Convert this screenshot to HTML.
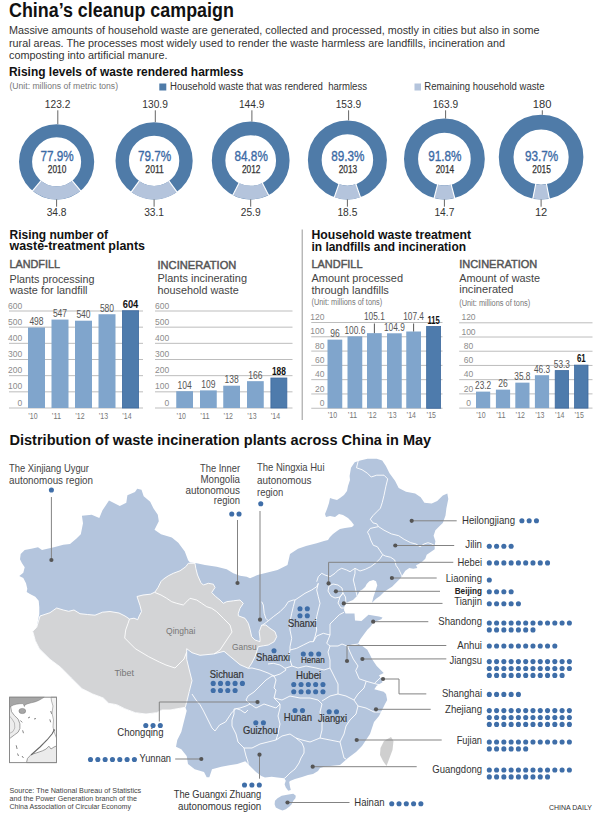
<!DOCTYPE html>
<html><head><meta charset="utf-8"><title>China's cleanup campaign</title>
<style>html,body{margin:0;padding:0;background:#fff;} svg{display:block;} text{font-family:'Liberation Sans', sans-serif;}</style>
</head><body>
<svg width="600" height="832" viewBox="0 0 600 832">
<rect width="600" height="832" fill="#fff"/>
<text x="9.0" y="17.3" font-size="20" fill="#111" font-weight="bold" textLength="224.8" lengthAdjust="spacingAndGlyphs">China’s cleanup campaign</text>
<text x="9.0" y="34.3" font-size="10.8" fill="#333" textLength="530.5" lengthAdjust="spacingAndGlyphs">Massive amounts of household waste are generated, collected and processed, mostly in cities but also in some</text>
<text x="9.0" y="46.8" font-size="10.8" fill="#333" textLength="496.0" lengthAdjust="spacingAndGlyphs">rural areas. The processes most widely used to render the waste harmless are landfills, incineration and</text>
<text x="9.0" y="58.8" font-size="10.8" fill="#333" textLength="158.5" lengthAdjust="spacingAndGlyphs">composting into artificial manure.</text>
<text x="9.0" y="76.2" font-size="13.2" fill="#111" font-weight="bold" textLength="234.3" lengthAdjust="spacingAndGlyphs">Rising levels of waste rendered harmless</text>
<text x="9.5" y="89.0" font-size="8.5" fill="#777" textLength="108.5" lengthAdjust="spacingAndGlyphs">(Unit: millions of metric tons)</text>
<rect x="159.3" y="83.5" width="7" height="7" fill="#4f7ba8"/>
<text x="170.0" y="90.3" font-size="10" fill="#333" textLength="197.0" lengthAdjust="spacingAndGlyphs" xml:space="preserve">Household waste that was rendered  harmless</text>
<rect x="414.5" y="83.5" width="6.5" height="7" fill="#b4c4dc"/>
<text x="424.3" y="90.3" font-size="10" fill="#333" textLength="120.3" lengthAdjust="spacingAndGlyphs">Remaining household waste</text>
<circle cx="56.60" cy="161.80" r="31.06" fill="none" stroke="#4f7ba8" stroke-width="13.08"/>
<path d="M32.61,190.75 A37.60,37.60 0 0 0 80.59,190.75 L72.24,180.68 A24.52,24.52 0 0 1 40.96,180.68 Z" fill="#b4c4dc"/>
<line x1="41.28" y1="180.29" x2="32.29" y2="191.14" stroke="#fff" stroke-width="1.1"/>
<line x1="71.92" y1="180.29" x2="80.91" y2="191.14" stroke="#fff" stroke-width="1.1"/>
<line x1="57.80" y1="110.3" x2="57.80" y2="124.20" stroke="#666" stroke-width="1"/>
<line x1="56.60" y1="199.40" x2="56.60" y2="206.7" stroke="#666" stroke-width="1"/>
<text x="57.6" y="107.5" font-size="11.5" fill="#333" text-anchor="middle" textLength="25.5" lengthAdjust="spacingAndGlyphs">123.2</text>
<text x="56.6" y="216.3" font-size="11.5" fill="#333" text-anchor="middle" textLength="19.9" lengthAdjust="spacingAndGlyphs">34.8</text>
<text x="57.1" y="160.5" font-size="14.8" fill="#3b6aa5" text-anchor="middle" textLength="33.3" lengthAdjust="spacingAndGlyphs" stroke="#3b6aa5" stroke-width="0.35">77.9%</text>
<text x="57.1" y="173.0" font-size="10" fill="#333" text-anchor="middle" textLength="18.5" lengthAdjust="spacingAndGlyphs" stroke="#333" stroke-width="0.25">2010</text>
<circle cx="154.10" cy="160.80" r="31.88" fill="none" stroke="#4f7ba8" stroke-width="13.43"/>
<path d="M131.23,191.90 A38.60,38.60 0 0 0 176.97,191.90 L169.01,181.08 A25.17,25.17 0 0 1 139.19,181.08 Z" fill="#b4c4dc"/>
<line x1="139.49" y1="180.67" x2="130.94" y2="192.30" stroke="#fff" stroke-width="1.1"/>
<line x1="168.71" y1="180.67" x2="177.26" y2="192.30" stroke="#fff" stroke-width="1.1"/>
<line x1="155.30" y1="110.3" x2="155.30" y2="122.20" stroke="#666" stroke-width="1"/>
<line x1="154.10" y1="199.40" x2="154.10" y2="206.7" stroke="#666" stroke-width="1"/>
<text x="155.1" y="107.5" font-size="11.5" fill="#333" text-anchor="middle" textLength="25.5" lengthAdjust="spacingAndGlyphs">130.9</text>
<text x="154.1" y="216.3" font-size="11.5" fill="#333" text-anchor="middle" textLength="19.9" lengthAdjust="spacingAndGlyphs">33.1</text>
<text x="154.6" y="160.5" font-size="14.8" fill="#3b6aa5" text-anchor="middle" textLength="33.3" lengthAdjust="spacingAndGlyphs" stroke="#3b6aa5" stroke-width="0.35">79.7%</text>
<text x="154.6" y="173.0" font-size="10" fill="#333" text-anchor="middle" textLength="18.5" lengthAdjust="spacingAndGlyphs" stroke="#333" stroke-width="0.25">2011</text>
<circle cx="250.70" cy="160.50" r="32.13" fill="none" stroke="#4f7ba8" stroke-width="13.54"/>
<path d="M232.86,195.07 A38.90,38.90 0 0 0 268.54,195.07 L262.33,183.04 A25.36,25.36 0 0 1 239.07,183.04 Z" fill="#b4c4dc"/>
<line x1="239.30" y1="182.59" x2="232.63" y2="195.51" stroke="#fff" stroke-width="1.1"/>
<line x1="262.10" y1="182.59" x2="268.77" y2="195.51" stroke="#fff" stroke-width="1.1"/>
<line x1="251.90" y1="110.3" x2="251.90" y2="121.60" stroke="#666" stroke-width="1"/>
<line x1="250.70" y1="199.40" x2="250.70" y2="206.7" stroke="#666" stroke-width="1"/>
<text x="251.7" y="107.5" font-size="11.5" fill="#333" text-anchor="middle" textLength="25.5" lengthAdjust="spacingAndGlyphs">144.9</text>
<text x="250.7" y="216.3" font-size="11.5" fill="#333" text-anchor="middle" textLength="19.9" lengthAdjust="spacingAndGlyphs">25.9</text>
<text x="251.2" y="160.5" font-size="14.8" fill="#3b6aa5" text-anchor="middle" textLength="33.3" lengthAdjust="spacingAndGlyphs" stroke="#3b6aa5" stroke-width="0.35">84.8%</text>
<text x="251.2" y="173.0" font-size="10" fill="#333" text-anchor="middle" textLength="18.5" lengthAdjust="spacingAndGlyphs" stroke="#333" stroke-width="0.25">2012</text>
<circle cx="347.40" cy="159.90" r="32.63" fill="none" stroke="#4f7ba8" stroke-width="13.75"/>
<path d="M334.33,197.18 A39.50,39.50 0 0 0 360.47,197.18 L355.92,184.20 A25.75,25.75 0 0 1 338.88,184.20 Z" fill="#b4c4dc"/>
<line x1="339.05" y1="183.73" x2="334.17" y2="197.65" stroke="#fff" stroke-width="1.1"/>
<line x1="355.75" y1="183.73" x2="360.63" y2="197.65" stroke="#fff" stroke-width="1.1"/>
<line x1="348.60" y1="110.3" x2="348.60" y2="120.40" stroke="#666" stroke-width="1"/>
<line x1="347.40" y1="199.40" x2="347.40" y2="206.7" stroke="#666" stroke-width="1"/>
<text x="348.4" y="107.5" font-size="11.5" fill="#333" text-anchor="middle" textLength="25.5" lengthAdjust="spacingAndGlyphs">153.9</text>
<text x="347.4" y="216.3" font-size="11.5" fill="#333" text-anchor="middle" textLength="19.9" lengthAdjust="spacingAndGlyphs">18.5</text>
<text x="347.9" y="160.5" font-size="14.8" fill="#3b6aa5" text-anchor="middle" textLength="33.3" lengthAdjust="spacingAndGlyphs" stroke="#3b6aa5" stroke-width="0.35">89.3%</text>
<text x="347.9" y="173.0" font-size="10" fill="#333" text-anchor="middle" textLength="18.5" lengthAdjust="spacingAndGlyphs" stroke="#333" stroke-width="0.25">2013</text>
<circle cx="444.40" cy="159.00" r="33.37" fill="none" stroke="#4f7ba8" stroke-width="14.06"/>
<path d="M434.07,198.06 A40.40,40.40 0 0 0 454.73,198.06 L451.14,184.47 A26.34,26.34 0 0 1 437.66,184.47 Z" fill="#b4c4dc"/>
<line x1="437.79" y1="183.98" x2="433.94" y2="198.54" stroke="#fff" stroke-width="1.1"/>
<line x1="451.01" y1="183.98" x2="454.86" y2="198.54" stroke="#fff" stroke-width="1.1"/>
<line x1="445.60" y1="110.3" x2="445.60" y2="118.60" stroke="#666" stroke-width="1"/>
<line x1="444.40" y1="199.40" x2="444.40" y2="206.7" stroke="#666" stroke-width="1"/>
<text x="445.4" y="107.5" font-size="11.5" fill="#333" text-anchor="middle" textLength="25.5" lengthAdjust="spacingAndGlyphs">163.9</text>
<text x="444.4" y="216.3" font-size="11.5" fill="#333" text-anchor="middle" textLength="19.9" lengthAdjust="spacingAndGlyphs">14.7</text>
<text x="444.9" y="160.5" font-size="14.8" fill="#3b6aa5" text-anchor="middle" textLength="33.3" lengthAdjust="spacingAndGlyphs" stroke="#3b6aa5" stroke-width="0.35">91.8%</text>
<text x="444.9" y="173.0" font-size="10" fill="#333" text-anchor="middle" textLength="18.5" lengthAdjust="spacingAndGlyphs" stroke="#333" stroke-width="0.25">2014</text>
<circle cx="541.10" cy="157.10" r="34.94" fill="none" stroke="#4f7ba8" stroke-width="14.72"/>
<path d="M532.85,198.59 A42.30,42.30 0 0 0 549.35,198.59 L546.48,184.15 A27.58,27.58 0 0 1 535.72,184.15 Z" fill="#b4c4dc"/>
<line x1="535.82" y1="183.66" x2="532.75" y2="199.08" stroke="#fff" stroke-width="1.1"/>
<line x1="546.38" y1="183.66" x2="549.45" y2="199.08" stroke="#fff" stroke-width="1.1"/>
<line x1="542.30" y1="110.3" x2="542.30" y2="114.80" stroke="#666" stroke-width="1"/>
<line x1="541.10" y1="199.40" x2="541.10" y2="206.7" stroke="#666" stroke-width="1"/>
<text x="542.1" y="107.5" font-size="11.5" fill="#333" text-anchor="middle" textLength="18.6" lengthAdjust="spacingAndGlyphs">180</text>
<text x="541.1" y="216.3" font-size="11.5" fill="#333" text-anchor="middle" textLength="12.4" lengthAdjust="spacingAndGlyphs">12</text>
<text x="541.6" y="160.5" font-size="14.8" fill="#3b6aa5" text-anchor="middle" textLength="33.3" lengthAdjust="spacingAndGlyphs" stroke="#3b6aa5" stroke-width="0.35">93.7%</text>
<text x="541.6" y="173.0" font-size="10" fill="#333" text-anchor="middle" textLength="18.5" lengthAdjust="spacingAndGlyphs" stroke="#333" stroke-width="0.25">2015</text>
<line x1="9" y1="408.00" x2="143" y2="408.00" stroke="#bdbdbd" stroke-width="1"/>
<text x="22.3" y="405.6" font-size="8.5" fill="#8c8c8c" text-anchor="end">0</text>
<line x1="9" y1="391.83" x2="143" y2="391.83" stroke="#bdbdbd" stroke-width="1"/>
<text x="22.3" y="389.4" font-size="8.5" fill="#8c8c8c" text-anchor="end">100</text>
<line x1="9" y1="375.67" x2="143" y2="375.67" stroke="#bdbdbd" stroke-width="1"/>
<text x="22.3" y="373.3" font-size="8.5" fill="#8c8c8c" text-anchor="end">200</text>
<line x1="9" y1="359.50" x2="143" y2="359.50" stroke="#bdbdbd" stroke-width="1"/>
<text x="22.3" y="357.1" font-size="8.5" fill="#8c8c8c" text-anchor="end">300</text>
<line x1="9" y1="343.33" x2="143" y2="343.33" stroke="#bdbdbd" stroke-width="1"/>
<text x="22.3" y="340.9" font-size="8.5" fill="#8c8c8c" text-anchor="end">400</text>
<line x1="9" y1="327.17" x2="143" y2="327.17" stroke="#bdbdbd" stroke-width="1"/>
<text x="22.3" y="324.8" font-size="8.5" fill="#8c8c8c" text-anchor="end">500</text>
<line x1="9" y1="311.00" x2="143" y2="311.00" stroke="#bdbdbd" stroke-width="1"/>
<text x="22.3" y="308.6" font-size="8.5" fill="#8c8c8c" text-anchor="end">600</text>
<rect x="28.00" y="327.49" width="17" height="80.51" fill="#80a5cc"/>
<text x="36.5" y="325.0" font-size="11" fill="#555" text-anchor="middle" textLength="14.2" lengthAdjust="spacingAndGlyphs">498</text>
<text x="28.3" y="418.8" font-size="8.5" fill="#777" textLength="9.3" lengthAdjust="spacingAndGlyphs">’10</text>
<rect x="51.50" y="319.57" width="17" height="88.43" fill="#80a5cc"/>
<text x="60.0" y="317.1" font-size="11" fill="#555" text-anchor="middle" textLength="14.2" lengthAdjust="spacingAndGlyphs">547</text>
<text x="51.8" y="418.8" font-size="8.5" fill="#777" textLength="9.3" lengthAdjust="spacingAndGlyphs">’11</text>
<rect x="75.00" y="320.70" width="17" height="87.30" fill="#80a5cc"/>
<text x="83.5" y="318.2" font-size="11" fill="#555" text-anchor="middle" textLength="14.2" lengthAdjust="spacingAndGlyphs">540</text>
<text x="75.3" y="418.8" font-size="8.5" fill="#777" textLength="9.3" lengthAdjust="spacingAndGlyphs">’12</text>
<rect x="98.50" y="314.23" width="17" height="93.77" fill="#80a5cc"/>
<text x="107.0" y="311.7" font-size="11" fill="#555" text-anchor="middle" textLength="14.2" lengthAdjust="spacingAndGlyphs">580</text>
<text x="98.8" y="418.8" font-size="8.5" fill="#777" textLength="9.3" lengthAdjust="spacingAndGlyphs">’13</text>
<rect x="122.40" y="310.75" width="16.20" height="97.25" fill="#4e7bac" stroke="#3d699e" stroke-width="0.8"/>
<text x="130.5" y="307.9" font-size="11" fill="#111" font-weight="bold" text-anchor="middle" textLength="15.6" lengthAdjust="spacingAndGlyphs">604</text>
<text x="122.3" y="418.8" font-size="8.5" fill="#777" textLength="9.3" lengthAdjust="spacingAndGlyphs">’14</text>
<line x1="155" y1="408.00" x2="292.5" y2="408.00" stroke="#bdbdbd" stroke-width="1"/>
<text x="169.3" y="405.6" font-size="8.5" fill="#8c8c8c" text-anchor="end">0</text>
<line x1="155" y1="391.83" x2="292.5" y2="391.83" stroke="#bdbdbd" stroke-width="1"/>
<text x="169.3" y="389.4" font-size="8.5" fill="#8c8c8c" text-anchor="end">100</text>
<line x1="155" y1="375.67" x2="292.5" y2="375.67" stroke="#bdbdbd" stroke-width="1"/>
<text x="169.3" y="373.3" font-size="8.5" fill="#8c8c8c" text-anchor="end">200</text>
<line x1="155" y1="359.50" x2="292.5" y2="359.50" stroke="#bdbdbd" stroke-width="1"/>
<text x="169.3" y="357.1" font-size="8.5" fill="#8c8c8c" text-anchor="end">300</text>
<line x1="155" y1="343.33" x2="292.5" y2="343.33" stroke="#bdbdbd" stroke-width="1"/>
<text x="169.3" y="340.9" font-size="8.5" fill="#8c8c8c" text-anchor="end">400</text>
<line x1="155" y1="327.17" x2="292.5" y2="327.17" stroke="#bdbdbd" stroke-width="1"/>
<text x="169.3" y="324.8" font-size="8.5" fill="#8c8c8c" text-anchor="end">500</text>
<line x1="155" y1="311.00" x2="292.5" y2="311.00" stroke="#bdbdbd" stroke-width="1"/>
<text x="169.3" y="308.6" font-size="8.5" fill="#8c8c8c" text-anchor="end">600</text>
<rect x="176.25" y="391.19" width="16.75" height="16.81" fill="#80a5cc"/>
<text x="184.6" y="388.7" font-size="11" fill="#555" text-anchor="middle" textLength="14.2" lengthAdjust="spacingAndGlyphs">104</text>
<text x="176.6" y="418.8" font-size="8.5" fill="#777" textLength="9.3" lengthAdjust="spacingAndGlyphs">’10</text>
<rect x="200.00" y="390.38" width="16.75" height="17.62" fill="#80a5cc"/>
<text x="208.4" y="387.9" font-size="11" fill="#555" text-anchor="middle" textLength="14.2" lengthAdjust="spacingAndGlyphs">109</text>
<text x="200.3" y="418.8" font-size="8.5" fill="#777" textLength="9.3" lengthAdjust="spacingAndGlyphs">’11</text>
<rect x="223.25" y="385.69" width="16.75" height="22.31" fill="#80a5cc"/>
<text x="231.6" y="383.2" font-size="11" fill="#555" text-anchor="middle" textLength="14.2" lengthAdjust="spacingAndGlyphs">138</text>
<text x="223.6" y="418.8" font-size="8.5" fill="#777" textLength="9.3" lengthAdjust="spacingAndGlyphs">’12</text>
<rect x="247.00" y="381.16" width="16.75" height="26.84" fill="#80a5cc"/>
<text x="255.4" y="378.7" font-size="11" fill="#555" text-anchor="middle" textLength="14.2" lengthAdjust="spacingAndGlyphs">166</text>
<text x="247.3" y="418.8" font-size="8.5" fill="#777" textLength="9.3" lengthAdjust="spacingAndGlyphs">’13</text>
<rect x="270.90" y="378.01" width="15.95" height="29.99" fill="#4e7bac" stroke="#3d699e" stroke-width="0.8"/>
<text x="278.9" y="375.1" font-size="11" fill="#111" font-weight="bold" text-anchor="middle" textLength="14.0" lengthAdjust="spacingAndGlyphs">188</text>
<text x="270.8" y="418.8" font-size="8.5" fill="#777" textLength="9.3" lengthAdjust="spacingAndGlyphs">’14</text>
<line x1="311.25" y1="408.25" x2="442.5" y2="408.25" stroke="#bdbdbd" stroke-width="1"/>
<text x="324.5" y="405.9" font-size="8.5" fill="#8c8c8c" text-anchor="end">0</text>
<line x1="311.25" y1="393.96" x2="442.5" y2="393.96" stroke="#bdbdbd" stroke-width="1"/>
<text x="324.5" y="391.6" font-size="8.5" fill="#8c8c8c" text-anchor="end">20</text>
<line x1="311.25" y1="379.67" x2="442.5" y2="379.67" stroke="#bdbdbd" stroke-width="1"/>
<text x="324.5" y="377.3" font-size="8.5" fill="#8c8c8c" text-anchor="end">40</text>
<line x1="311.25" y1="365.38" x2="442.5" y2="365.38" stroke="#bdbdbd" stroke-width="1"/>
<text x="324.5" y="363.0" font-size="8.5" fill="#8c8c8c" text-anchor="end">60</text>
<line x1="311.25" y1="351.08" x2="442.5" y2="351.08" stroke="#bdbdbd" stroke-width="1"/>
<text x="324.5" y="348.7" font-size="8.5" fill="#8c8c8c" text-anchor="end">80</text>
<line x1="311.25" y1="336.79" x2="442.5" y2="336.79" stroke="#bdbdbd" stroke-width="1"/>
<text x="324.5" y="334.4" font-size="8.5" fill="#8c8c8c" text-anchor="end">100</text>
<line x1="311.25" y1="322.50" x2="442.5" y2="322.50" stroke="#bdbdbd" stroke-width="1"/>
<text x="324.5" y="320.1" font-size="8.5" fill="#8c8c8c" text-anchor="end">120</text>
<rect x="327.50" y="339.65" width="14.75" height="68.60" fill="#80a5cc"/>
<text x="334.9" y="337.1" font-size="11" fill="#555" text-anchor="middle" textLength="9.5" lengthAdjust="spacingAndGlyphs">96</text>
<text x="327.8" y="417.8" font-size="8.5" fill="#777" textLength="9.3" lengthAdjust="spacingAndGlyphs">’10</text>
<rect x="347.50" y="336.36" width="14.75" height="71.89" fill="#80a5cc"/>
<text x="354.9" y="333.9" font-size="11" fill="#555" text-anchor="middle" textLength="20.8" lengthAdjust="spacingAndGlyphs">100.6</text>
<text x="347.8" y="417.8" font-size="8.5" fill="#777" textLength="9.3" lengthAdjust="spacingAndGlyphs">’11</text>
<rect x="367.00" y="333.15" width="14.75" height="75.10" fill="#80a5cc"/>
<line x1="374.38" y1="323.50" x2="374.38" y2="333.15" stroke="#555" stroke-width="1"/>
<text x="374.4" y="320.0" font-size="11" fill="#555" text-anchor="middle" textLength="20.8" lengthAdjust="spacingAndGlyphs">105.1</text>
<text x="367.3" y="417.8" font-size="8.5" fill="#777" textLength="9.3" lengthAdjust="spacingAndGlyphs">’12</text>
<rect x="387.00" y="333.29" width="14.75" height="74.96" fill="#80a5cc"/>
<text x="394.4" y="330.8" font-size="11" fill="#555" text-anchor="middle" textLength="20.8" lengthAdjust="spacingAndGlyphs">104.9</text>
<text x="387.3" y="417.8" font-size="8.5" fill="#777" textLength="9.3" lengthAdjust="spacingAndGlyphs">’13</text>
<rect x="406.25" y="331.50" width="14.75" height="76.75" fill="#80a5cc"/>
<line x1="413.62" y1="323.50" x2="413.62" y2="331.50" stroke="#555" stroke-width="1"/>
<text x="413.6" y="320.0" font-size="11" fill="#555" text-anchor="middle" textLength="20.8" lengthAdjust="spacingAndGlyphs">107.4</text>
<text x="406.6" y="417.8" font-size="8.5" fill="#777" textLength="9.3" lengthAdjust="spacingAndGlyphs">’14</text>
<rect x="426.65" y="326.47" width="13.95" height="81.78" fill="#4e7bac" stroke="#3d699e" stroke-width="0.8"/>
<text x="433.6" y="323.6" font-size="11" fill="#111" font-weight="bold" text-anchor="middle" textLength="12.4" lengthAdjust="spacingAndGlyphs">115</text>
<text x="426.6" y="417.8" font-size="8.5" fill="#777" textLength="9.3" lengthAdjust="spacingAndGlyphs">’15</text>
<line x1="459.2" y1="408.10" x2="592.5" y2="408.10" stroke="#bdbdbd" stroke-width="1"/>
<text x="468.5" y="405.7" font-size="8.5" fill="#8c8c8c" text-anchor="middle">0</text>
<line x1="459.2" y1="393.88" x2="592.5" y2="393.88" stroke="#bdbdbd" stroke-width="1"/>
<text x="468.5" y="391.5" font-size="8.5" fill="#8c8c8c" text-anchor="middle">20</text>
<line x1="459.2" y1="379.67" x2="592.5" y2="379.67" stroke="#bdbdbd" stroke-width="1"/>
<text x="468.5" y="377.3" font-size="8.5" fill="#8c8c8c" text-anchor="middle">40</text>
<line x1="459.2" y1="365.45" x2="592.5" y2="365.45" stroke="#bdbdbd" stroke-width="1"/>
<text x="468.5" y="363.1" font-size="8.5" fill="#8c8c8c" text-anchor="middle">60</text>
<line x1="459.2" y1="351.23" x2="592.5" y2="351.23" stroke="#bdbdbd" stroke-width="1"/>
<text x="468.5" y="348.8" font-size="8.5" fill="#8c8c8c" text-anchor="middle">80</text>
<line x1="459.2" y1="337.02" x2="592.5" y2="337.02" stroke="#bdbdbd" stroke-width="1"/>
<text x="468.5" y="334.6" font-size="8.5" fill="#8c8c8c" text-anchor="middle">100</text>
<line x1="459.2" y1="322.80" x2="592.5" y2="322.80" stroke="#bdbdbd" stroke-width="1"/>
<text x="468.5" y="320.4" font-size="8.5" fill="#8c8c8c" text-anchor="middle">120</text>
<rect x="476.00" y="391.61" width="14.2" height="16.49" fill="#80a5cc"/>
<text x="483.1" y="389.1" font-size="11" fill="#555" text-anchor="middle" textLength="16.1" lengthAdjust="spacingAndGlyphs">23.2</text>
<text x="476.3" y="417.9" font-size="8.5" fill="#777" textLength="9.3" lengthAdjust="spacingAndGlyphs">’10</text>
<rect x="495.90" y="389.62" width="14.2" height="18.48" fill="#80a5cc"/>
<text x="503.0" y="387.1" font-size="11" fill="#555" text-anchor="middle" textLength="9.5" lengthAdjust="spacingAndGlyphs">26</text>
<text x="496.2" y="417.9" font-size="8.5" fill="#777" textLength="9.3" lengthAdjust="spacingAndGlyphs">’11</text>
<rect x="515.30" y="382.65" width="14.2" height="25.45" fill="#80a5cc"/>
<text x="522.4" y="380.2" font-size="11" fill="#555" text-anchor="middle" textLength="16.1" lengthAdjust="spacingAndGlyphs">35.8</text>
<text x="515.6" y="417.9" font-size="8.5" fill="#777" textLength="9.3" lengthAdjust="spacingAndGlyphs">’12</text>
<rect x="534.90" y="375.19" width="14.2" height="32.91" fill="#80a5cc"/>
<text x="542.0" y="372.7" font-size="11" fill="#555" text-anchor="middle" textLength="16.1" lengthAdjust="spacingAndGlyphs">46.3</text>
<text x="535.2" y="417.9" font-size="8.5" fill="#777" textLength="9.3" lengthAdjust="spacingAndGlyphs">’13</text>
<rect x="555.20" y="370.61" width="13.40" height="37.49" fill="#4e7bac" stroke="#3d699e" stroke-width="0.8"/>
<text x="561.9" y="367.7" font-size="11" fill="#555" text-anchor="middle" textLength="16.1" lengthAdjust="spacingAndGlyphs">53.3</text>
<text x="555.1" y="417.9" font-size="8.5" fill="#777" textLength="9.3" lengthAdjust="spacingAndGlyphs">’14</text>
<rect x="574.60" y="365.14" width="13.40" height="42.96" fill="#4e7bac" stroke="#3d699e" stroke-width="0.8"/>
<text x="581.3" y="362.2" font-size="11" fill="#111" font-weight="bold" text-anchor="middle" textLength="8.8" lengthAdjust="spacingAndGlyphs">61</text>
<text x="574.5" y="417.9" font-size="8.5" fill="#777" textLength="9.3" lengthAdjust="spacingAndGlyphs">’15</text>
<text x="9.5" y="239.0" font-size="13.2" fill="#111" font-weight="bold" textLength="98.5" lengthAdjust="spacingAndGlyphs">Rising number of</text>
<text x="9.5" y="250.2" font-size="13.2" fill="#111" font-weight="bold" textLength="135.5" lengthAdjust="spacingAndGlyphs">waste-treatment plants</text>
<text x="9.5" y="268.2" font-size="11" fill="#555" textLength="50.5" lengthAdjust="spacingAndGlyphs" stroke="#555" stroke-width="0.45">LANDFILL</text>
<text x="9.5" y="282.8" font-size="11.5" fill="#444" textLength="85.0" lengthAdjust="spacingAndGlyphs">Plants processing</text>
<text x="9.5" y="293.8" font-size="11.5" fill="#444" textLength="78.0" lengthAdjust="spacingAndGlyphs">waste for landfill</text>
<text x="157.5" y="268.5" font-size="11" fill="#555" textLength="78.8" lengthAdjust="spacingAndGlyphs" stroke="#555" stroke-width="0.45">INCINERATION</text>
<text x="157.5" y="282.0" font-size="11.5" fill="#444" textLength="89.5" lengthAdjust="spacingAndGlyphs">Plants incinerating</text>
<text x="157.5" y="293.8" font-size="11.5" fill="#444" textLength="81.2" lengthAdjust="spacingAndGlyphs">household waste</text>
<line x1="302.2" y1="229.5" x2="302.2" y2="420" stroke="#999" stroke-width="1"/>
<text x="311.5" y="238.8" font-size="13.2" fill="#111" font-weight="bold" textLength="159.5" lengthAdjust="spacingAndGlyphs">Household waste treatment</text>
<text x="311.5" y="250.5" font-size="13.2" fill="#111" font-weight="bold" textLength="154.5" lengthAdjust="spacingAndGlyphs">in landfills and incineration</text>
<text x="311.5" y="267.9" font-size="11" fill="#555" textLength="51.0" lengthAdjust="spacingAndGlyphs" stroke="#555" stroke-width="0.45">LANDFILL</text>
<text x="311.5" y="282.0" font-size="11.5" fill="#444" textLength="91.5" lengthAdjust="spacingAndGlyphs">Amount processed</text>
<text x="311.5" y="294.0" font-size="11.5" fill="#444" textLength="77.4" lengthAdjust="spacingAndGlyphs">through landfills</text>
<text x="311.5" y="304.7" font-size="8.5" fill="#777" textLength="70.7" lengthAdjust="spacingAndGlyphs">(Unit: millions of tons)</text>
<text x="459.2" y="268.1" font-size="11" fill="#555" textLength="78.0" lengthAdjust="spacingAndGlyphs" stroke="#555" stroke-width="0.45">INCINERATION</text>
<text x="459.2" y="281.5" font-size="11.5" fill="#444" textLength="80.8" lengthAdjust="spacingAndGlyphs">Amount of waste</text>
<text x="459.2" y="293.4" font-size="11.5" fill="#444" textLength="54.3" lengthAdjust="spacingAndGlyphs">incinerated</text>
<text x="459.2" y="305.5" font-size="8.5" fill="#777" textLength="71.0" lengthAdjust="spacingAndGlyphs">(Unit: millions of tons)</text>
<text x="9.5" y="444.5" font-size="14.5" fill="#111" font-weight="bold" textLength="421.7" lengthAdjust="spacingAndGlyphs">Distribution of waste incineration plants across China in May</text>
<path d="M137.2,488.7 L141.5,489.8 L143.7,496.3 L150.2,501.7 L153.4,508.2 L157.8,514.7 L158.8,521.2 L154.5,529.8 L161.0,534.2 L171.8,537.4 L178.3,542.8 L184.8,551.5 L188.1,560.2 L190.0,562.5 L196.7,563.3 L205.0,565.0 L216.7,566.7 L226.7,569.2 L233.3,573.3 L240.0,575.8 L246.7,576.7 L250.0,578.3 L257.5,575.0 L267.5,572.5 L277.5,570.0 L287.5,565.0 L290.0,554.0 L298.0,548.7 L306.0,546.0 L316.7,543.3 L324.0,541.0 L328.0,540.0 L330.0,537.0 L333.0,534.0 L337.0,531.0 L340.0,529.0 L345.0,528.0 L352.0,527.0 L354.0,525.0 L351.0,521.0 L348.0,518.0 L343.0,515.0 L339.0,514.0 L335.0,517.0 L330.0,516.0 L326.0,517.0 L325.0,514.0 L327.0,509.0 L329.0,503.0 L330.0,498.0 L333.0,499.0 L337.0,500.0 L340.0,498.0 L344.0,495.0 L347.0,491.0 L348.0,486.0 L350.0,480.0 L349.6,476.0 L351.0,467.8 L354.7,462.3 L360.2,460.5 L367.5,458.7 L376.7,458.7 L382.2,460.5 L385.9,466.0 L389.5,473.3 L395.0,480.7 L398.7,488.0 L406.0,491.7 L415.2,493.5 L420.7,497.2 L424.4,502.7 L431.7,503.6 L437.2,500.9 L442.8,495.4 L447.3,493.5 L448.3,499.0 L446.4,508.2 L445.5,515.6 L442.8,522.9 L439.1,526.6 L435.4,530.2 L433.6,535.7 L435.4,541.2 L434.7,545.3 L434.7,549.3 L430.7,552.0 L426.7,554.7 L425.3,558.7 L422.7,561.3 L418.7,564.0 L416.0,565.3 L417.3,568.0 L413.3,568.7 L409.3,568.0 L405.3,570.7 L402.7,574.7 L400.0,578.7 L396.0,582.7 L392.0,586.7 L388.0,589.3 L384.0,592.0 L380.0,596.0 L376.0,598.7 L372.0,602.7 L373.3,597.3 L374.7,593.3 L376.0,589.3 L377.3,585.3 L376.0,581.3 L373.3,580.0 L369.3,581.3 L366.7,584.0 L365.3,586.7 L362.7,589.3 L360.0,590.7 L357.0,596.0 L353.0,600.0 L348.0,602.0 L345.0,604.0 L344.0,610.0 L345.5,613.5 L354.5,613.5 L355.0,620.5 L361.5,621.0 L366.0,617.0 L368.5,614.7 L374.3,615.8 L379.0,616.4 L382.5,617.6 L381.3,619.3 L376.7,621.0 L373.2,622.8 L370.8,626.3 L367.3,629.8 L363.8,634.5 L360.3,639.2 L358.0,643.8 L362.7,646.2 L367.3,649.7 L369.7,654.3 L372.0,659.0 L374.3,662.5 L376.7,666.0 L380.2,669.5 L383.7,673.0 L381.3,674.2 L379.0,675.3 L381.3,678.8 L382.5,682.3 L376.7,685.8 L374.3,689.3 L379.0,690.5 L383.7,691.7 L386.0,694.0 L387.2,700.0 L385.0,704.0 L382.0,710.0 L379.0,716.0 L374.0,722.0 L372.0,728.0 L370.0,734.0 L366.0,740.0 L362.0,746.0 L356.0,752.0 L348.0,758.0 L340.0,765.0 L325.0,766.5 L320.0,768.0 L318.0,771.0 L313.0,774.0 L308.0,775.0 L302.0,777.0 L295.0,779.0 L290.0,781.0 L289.2,782.0 L290.0,786.7 L290.8,790.0 L288.3,790.8 L285.8,787.5 L284.6,784.2 L285.8,780.8 L284.2,778.3 L277.5,777.5 L271.7,776.7 L265.0,777.5 L261.3,776.0 L256.0,772.0 L250.7,766.7 L245.3,761.3 L237.3,764.0 L229.3,765.3 L221.3,766.7 L212.0,769.3 L209.3,777.3 L206.7,777.3 L204.0,772.0 L194.7,769.3 L188.0,764.0 L186.7,756.0 L181.3,749.3 L176.0,746.7 L177.3,740.0 L181.3,732.0 L184.0,721.3 L186.7,710.7 L185.3,707.3 L170.0,710.0 L162.0,710.0 L156.7,712.7 L146.0,714.0 L135.3,712.7 L124.7,708.7 L116.7,704.7 L108.7,703.3 L103.3,698.0 L92.7,694.0 L82.0,688.7 L71.3,678.0 L60.7,667.3 L50.0,659.3 L39.3,648.7 L35.3,640.7 L32.7,631.3 L36.7,627.3 L39.3,614.0 L39.3,607.3 L38.7,600.7 L35.3,596.7 L30.0,594.0 L26.7,592.0 L27.3,588.7 L26.0,583.3 L23.3,578.0 L19.3,576.0 L23.3,572.7 L24.7,567.3 L22.0,563.3 L20.0,559.3 L20.7,554.0 L24.7,550.0 L31.3,548.7 L38.0,547.3 L42.0,550.0 L47.3,548.7 L54.0,547.3 L63.3,544.7 L70.0,543.9 L76.5,538.5 L80.8,534.2 L83.0,523.3 L81.9,515.8 L91.7,514.7 L99.3,517.9 L102.5,510.3 L109.0,500.6 L119.8,506.0 L126.3,502.8 L127.4,495.2 L135.0,491.9 Z" fill="#b4c5dd"/>
<path d="M40.0,616.0 L50.0,612.7 L56.7,608.0 L63.3,610.0 L68.7,611.3 L74.0,610.0 L80.0,613.7 L87.5,614.5 L95.0,615.2 L102.5,612.2 L110.0,611.5 L119.0,613.0 L125.0,616.0 L129.5,619.0 L134.0,618.2 L137.7,619.7 L139.2,616.0 L141.5,611.5 L140.0,605.5 L138.5,601.0 L137.0,596.5 L143.0,595.0 L150.5,594.2 L155.0,592.0 L158.0,587.5 L161.0,581.5 L163.3,579.2 L168.3,575.8 L173.3,573.3 L180.0,570.8 L185.8,566.7 L188.3,563.3 L195.0,563.3 L195.8,568.3 L197.5,575.0 L200.8,582.5 L203.3,585.0 L208.3,583.3 L213.3,584.2 L215.0,587.5 L211.7,592.5 L215.8,596.7 L220.0,600.0 L223.3,603.3 L226.7,601.7 L233.3,600.8 L240.0,600.0 L243.3,603.3 L240.0,608.3 L238.3,613.3 L238.3,615.8 L245.0,618.3 L248.3,623.3 L250.0,629.2 L251.7,636.7 L255.0,640.0 L260.0,641.7 L260.0,638.3 L259.2,631.7 L261.7,625.0 L265.8,625.0 L270.0,628.3 L275.0,631.7 L276.7,636.7 L274.2,641.7 L268.3,645.0 L263.3,645.8 L258.3,646.7 L256.7,651.7 L255.0,656.7 L251.7,663.3 L248.3,668.3 L240.0,664.7 L232.0,658.0 L224.0,651.3 L213.3,654.0 L200.0,655.3 L192.0,652.7 L186.7,648.7 L186.7,659.3 L189.3,670.0 L192.0,680.7 L189.3,691.3 L186.7,702.0 L185.3,707.3 L170.0,710.0 L162.0,710.0 L156.7,712.7 L146.0,714.0 L135.3,712.7 L124.7,708.7 L116.7,704.7 L108.7,703.3 L103.3,698.0 L92.7,694.0 L82.0,688.7 L71.3,678.0 L60.7,667.3 L50.0,659.3 L39.3,648.7 L35.3,640.7 L32.7,631.3 L36.7,627.3 Z" fill="#d3d4d6" stroke="#fff" stroke-width="0.9" stroke-linejoin="round"/>
<path d="M275,800.8 L277.5,798.3 L281.7,795.8 L285.8,795 L290,794.2 L293.3,793.8 L295.8,795.8 L295.4,798.3 L293.3,800.8 L291.7,804.2 L289.2,806.7 L285.8,809.2 L282.5,810.4 L279.2,809.2 L275.8,807.5 L274.6,804.2 Z" fill="#b4c5dd"/>
<path d="M391,737 L393.5,741 L392.5,750 L389.5,758 L386.5,766 L383,761 L380,755 L380.5,748 L384,741 Z" fill="#cfcfcf"/>
<path d="M358.3,460.5 L356.5,467.8 L362.0,469.7 L367.5,473.3 L371.2,477.0 L376.7,475.2 L384.0,475.2 L387.7,478.9 L385.9,486.2 L384.0,495.4 L382.2,502.7 L380.4,508.2 L376.7,511.9 L373.0,515.6 L370.3,519.2 L373.0,522.9 L376.7,523.8 L378.5,526.6" fill="none" stroke="#fff" stroke-width="0.9" stroke-linejoin="round"/>
<path d="M378.5,526.6 L384.0,530.2 L391.4,533.9 L398.7,535.7 L404.2,539.4 L410.7,542.7 L416.0,544.0 L420.0,546.7 L424.0,544.0 L428.0,542.7 L432.0,544.0 L435.0,546.0" fill="none" stroke="#fff" stroke-width="0.9" stroke-linejoin="round"/>
<path d="M378.5,526.6 L370.3,528.4 L367.5,532.1 L369.4,535.7 L370.7,540.0 L373.3,545.3 L377.3,546.7 L380.0,550.7 L382.7,554.7" fill="none" stroke="#fff" stroke-width="0.9" stroke-linejoin="round"/>
<path d="M382.7,554.7 L385.3,556.0 L390.7,557.3 L394.7,560.0 L396.0,565.3 L398.7,569.3 L401.3,574.7 L402.7,577.3" fill="none" stroke="#fff" stroke-width="0.9" stroke-linejoin="round"/>
<path d="M382.7,554.7 L380.0,558.7 L376.0,562.7 L370.7,566.7 L365.3,569.3 L360.0,571.0" fill="none" stroke="#fff" stroke-width="0.9" stroke-linejoin="round"/>
<path d="M360.0,571.0 L355.0,568.3 L350.0,571.7 L346.7,570.0 L341.7,568.3 L338.3,570.0 L335.0,573.3 L330.0,576.7 L325.0,575.0 L321.7,573.3 L318.3,576.7 L316.7,581.7" fill="none" stroke="#fff" stroke-width="0.9" stroke-linejoin="round"/>
<path d="M355.0,568.3 L355.0,573.3 L353.3,580.0 L355.0,586.7 L357.0,596.0" fill="none" stroke="#fff" stroke-width="0.9" stroke-linejoin="round"/>
<path d="M318.3,583.3 L316.7,586.7 L311.7,590.0 L305.0,593.3 L300.0,596.7 L295.0,600.0" fill="none" stroke="#fff" stroke-width="0.9" stroke-linejoin="round"/>
<path d="M318.3,583.3 L316.7,590.0 L318.3,596.7 L320.0,603.3 L318.3,610.0 L316.7,616.7 L315.8,623.3 L316.7,630.0 L315.0,636.7 L313.3,641.7" fill="none" stroke="#fff" stroke-width="0.9" stroke-linejoin="round"/>
<path d="M295.0,600.0 L293.3,606.7 L291.7,613.3 L290.0,621.7 L290.0,630.0 L291.7,638.3 L290.0,646.7 L290.0,650.0" fill="none" stroke="#fff" stroke-width="0.9" stroke-linejoin="round"/>
<path d="M290.0,650.0 L296.7,648.3 L303.3,645.0 L310.0,641.7 L313.3,641.7" fill="none" stroke="#fff" stroke-width="0.9" stroke-linejoin="round"/>
<path d="M313.3,641.7 L316.7,636.0 L323.3,633.3 L330.0,635.0 L330.0,624.0 L334.7,619.3 L339.3,614.7 L344.0,612.3" fill="none" stroke="#fff" stroke-width="0.9" stroke-linejoin="round"/>
<path d="M330.0,635.0 L326.7,643.3 L330.0,646.0 L338.0,646.0 L342.0,644.0 L347.5,646.2 L352.0,645.0 L358.0,644.0" fill="none" stroke="#fff" stroke-width="0.9" stroke-linejoin="round"/>
<path d="M261.7,601.7 L263.3,605.0 L264.2,613.3 L265.8,618.3 L268.3,620.8 L273.3,616.7 L280.0,611.7 L285.0,606.7 L288.3,601.7 L293.3,600.0 L295.0,600.0" fill="none" stroke="#fff" stroke-width="0.9" stroke-linejoin="round"/>
<path d="M268.3,620.8 L265.0,623.3 L262.5,625.0" fill="none" stroke="#fff" stroke-width="0.9" stroke-linejoin="round"/>
<path d="M329.0,586.0 L333.0,584.0 L338.0,585.0 L342.0,588.0 L343.0,593.0 L340.0,597.0 L335.0,598.0 L331.0,596.0 L328.0,591.0 L329.0,586.0" fill="none" stroke="#fff" stroke-width="0.9" stroke-linejoin="round"/>
<path d="M340.0,597.0 L343.0,593.0 L345.5,597.0 L346.0,603.0 L345.0,608.0 L341.0,608.0 L338.0,603.0 L340.0,597.0" fill="none" stroke="#fff" stroke-width="0.9" stroke-linejoin="round"/>
<path d="M290.0,650.0 L289.0,656.0 L290.0,660.0 L292.0,666.0 L285.0,668.3 L280.0,665.0 L273.3,663.3 L268.0,664.0" fill="none" stroke="#fff" stroke-width="0.9" stroke-linejoin="round"/>
<path d="M292.0,666.0 L298.0,668.0 L306.0,666.0 L316.0,668.0 L324.0,670.0 L330.0,668.0" fill="none" stroke="#fff" stroke-width="0.9" stroke-linejoin="round"/>
<path d="M330.0,668.0 L330.0,660.0 L328.0,652.0 L330.0,646.0" fill="none" stroke="#fff" stroke-width="0.9" stroke-linejoin="round"/>
<path d="M248.3,668.3 L252.0,668.0 L260.0,670.0 L268.0,673.0 L274.0,676.0 L280.0,674.0 L286.0,670.0 L285.0,668.3" fill="none" stroke="#fff" stroke-width="0.9" stroke-linejoin="round"/>
<path d="M248.0,696.0 L254.0,692.0 L260.0,686.0 L266.0,680.0 L272.0,676.0 L274.0,676.0" fill="none" stroke="#fff" stroke-width="0.9" stroke-linejoin="round"/>
<path d="M274.0,676.0 L276.0,680.0 L274.0,688.0 L276.0,690.0 L274.0,698.0" fill="none" stroke="#fff" stroke-width="0.9" stroke-linejoin="round"/>
<path d="M234.0,709.0 L240.0,708.0 L246.0,706.0 L250.0,704.0 L256.0,708.0 L264.0,704.0 L270.0,706.0 L276.0,708.0 L280.0,704.0 L274.0,698.0" fill="none" stroke="#fff" stroke-width="0.9" stroke-linejoin="round"/>
<path d="M248.0,696.0 L246.0,700.0 L250.0,704.0" fill="none" stroke="#fff" stroke-width="0.9" stroke-linejoin="round"/>
<path d="M192.0,694.0 L196.0,700.0 L200.0,704.7 L203.0,710.0 L206.0,716.0 L209.0,722.0 L212.0,728.0 L215.0,731.0 L219.5,725.0 L225.5,722.0 L231.5,713.0 L236.0,708.5 L240.5,710.0 L245.0,713.0 L248.0,710.0" fill="none" stroke="#fff" stroke-width="0.9" stroke-linejoin="round"/>
<path d="M234.0,709.0 L234.0,714.0 L232.0,720.0 L232.0,726.0 L236.0,734.0 L238.0,742.0" fill="none" stroke="#fff" stroke-width="0.9" stroke-linejoin="round"/>
<path d="M280.0,704.0 L280.0,708.0 L278.0,716.0 L280.0,724.0 L278.0,734.0 L276.0,740.0" fill="none" stroke="#fff" stroke-width="0.9" stroke-linejoin="round"/>
<path d="M276.0,740.0 L268.0,742.0 L260.0,744.0 L252.0,748.0 L244.0,748.0 L238.0,742.0" fill="none" stroke="#fff" stroke-width="0.9" stroke-linejoin="round"/>
<path d="M244.0,748.0 L246.0,756.0 L248.0,762.0 L248.0,765.3" fill="none" stroke="#fff" stroke-width="0.9" stroke-linejoin="round"/>
<path d="M274.0,698.0 L282.0,700.0 L290.0,696.0 L300.0,698.0 L310.0,698.0 L318.0,700.0 L322.0,704.0" fill="none" stroke="#fff" stroke-width="0.9" stroke-linejoin="round"/>
<path d="M322.0,701.0 L330.0,696.0 L338.0,694.0" fill="none" stroke="#fff" stroke-width="0.9" stroke-linejoin="round"/>
<path d="M330.0,668.0 L334.0,676.0 L338.0,684.0 L338.0,694.0" fill="none" stroke="#fff" stroke-width="0.9" stroke-linejoin="round"/>
<path d="M322.0,704.0 L320.0,712.0 L322.0,720.0 L322.0,730.0 L320.0,738.0" fill="none" stroke="#fff" stroke-width="0.9" stroke-linejoin="round"/>
<path d="M276.0,740.0 L282.0,736.0 L290.0,734.0 L296.0,738.0 L302.0,740.0 L310.0,742.0 L320.0,738.0" fill="none" stroke="#fff" stroke-width="0.9" stroke-linejoin="round"/>
<path d="M338.0,694.0 L346.0,696.0 L354.0,700.0 L358.0,706.0" fill="none" stroke="#fff" stroke-width="0.9" stroke-linejoin="round"/>
<path d="M358.0,706.0 L356.0,714.0 L350.0,720.0 L346.0,726.0 L344.0,734.0 L340.0,742.0" fill="none" stroke="#fff" stroke-width="0.9" stroke-linejoin="round"/>
<path d="M320.0,738.0 L330.0,740.0 L340.0,742.0" fill="none" stroke="#fff" stroke-width="0.9" stroke-linejoin="round"/>
<path d="M358.0,706.0 L366.0,708.0 L374.0,712.0 L382.0,712.0" fill="none" stroke="#fff" stroke-width="0.9" stroke-linejoin="round"/>
<path d="M340.0,742.0 L342.0,750.0 L344.0,758.0 L346.0,759.0" fill="none" stroke="#fff" stroke-width="0.9" stroke-linejoin="round"/>
<path d="M347.5,646.2 L350.0,652.0 L353.3,659.0 L358.0,666.0 L355.7,670.7 L359.2,678.8 L366.2,681.2 L374.3,683.5 L379.0,684.7" fill="none" stroke="#fff" stroke-width="0.9" stroke-linejoin="round"/>
<path d="M354.0,700.0 L358.0,694.0 L364.0,688.0 L366.2,681.2" fill="none" stroke="#fff" stroke-width="0.9" stroke-linejoin="round"/>
<path d="M374.3,683.5 L378.0,680.0 L381.0,677.0" fill="none" stroke="#fff" stroke-width="0.9" stroke-linejoin="round"/>
<path d="M296.0,738.0 L302.0,743.0 L304.0,748.0 L304.0,753.0 L301.0,758.0 L299.0,763.0 L295.0,769.0 L290.0,773.0 L285.0,778.0 L284.2,778.3" fill="none" stroke="#fff" stroke-width="0.9" stroke-linejoin="round"/>
<path d="M129.5,619.0 L128.0,623.5 L125.7,630.0 L124.7,638.0 L135.3,648.7 L148.7,656.7 L159.3,662.0 L166.0,665.0 L175.0,668.0 L184.0,659.0 L186.7,652.0" fill="none" stroke="#fff" stroke-width="0.9" stroke-linejoin="round"/>
<path d="M155.0,592.5 L161.0,595.0 L166.7,598.3 L171.7,601.7 L176.7,603.3 L183.3,605.0 L186.7,601.7 L190.0,598.3 L196.7,600.0 L201.7,603.3 L206.7,606.7 L211.7,608.3 L216.7,611.7 L220.0,615.0 L223.3,618.3 L230.0,625.0 L232.0,632.0 L226.0,641.0 L220.0,650.0 L214.0,654.0" fill="none" stroke="#fff" stroke-width="0.9" stroke-linejoin="round"/>
<path d="M411.7,520.8 L456.7,520.8" fill="none" stroke="#838383" stroke-width="1"/>
<circle cx="411.7" cy="520.8" r="2.1" fill="#555"/>
<text x="515.0" y="523.5" font-size="10.5" fill="#333" text-anchor="end" textLength="53.0" lengthAdjust="spacingAndGlyphs">Heilongjiang</text>
<circle cx="521.90" cy="520.80" r="2.55" fill="#3f6ea8"/>
<circle cx="529.18" cy="520.80" r="2.55" fill="#3f6ea8"/>
<circle cx="536.46" cy="520.80" r="2.55" fill="#3f6ea8"/>
<path d="M395.3,545.5 L454.2,545.5" fill="none" stroke="#838383" stroke-width="1"/>
<circle cx="395.3" cy="545.5" r="2.1" fill="#555"/>
<text x="482.0" y="548.0" font-size="10.5" fill="#333" text-anchor="end" textLength="16.7" lengthAdjust="spacingAndGlyphs">Jilin</text>
<circle cx="489.30" cy="546.20" r="2.55" fill="#3f6ea8"/>
<circle cx="496.58" cy="546.20" r="2.55" fill="#3f6ea8"/>
<circle cx="503.86" cy="546.20" r="2.55" fill="#3f6ea8"/>
<circle cx="511.14" cy="546.20" r="2.55" fill="#3f6ea8"/>
<path d="M328.6,583.4 L328.6,562.3 L453.3,562.3" fill="none" stroke="#838383" stroke-width="1"/>
<circle cx="328.6" cy="583.4" r="2.1" fill="#555"/>
<text x="482.0" y="565.6" font-size="10.5" fill="#333" text-anchor="end" textLength="24.5" lengthAdjust="spacingAndGlyphs">Hebei</text>
<circle cx="489.30" cy="562.90" r="2.55" fill="#3f6ea8"/>
<circle cx="496.58" cy="562.90" r="2.55" fill="#3f6ea8"/>
<circle cx="503.86" cy="562.90" r="2.55" fill="#3f6ea8"/>
<circle cx="511.14" cy="562.90" r="2.55" fill="#3f6ea8"/>
<circle cx="518.42" cy="562.90" r="2.55" fill="#3f6ea8"/>
<circle cx="525.70" cy="562.90" r="2.55" fill="#3f6ea8"/>
<circle cx="532.98" cy="562.90" r="2.55" fill="#3f6ea8"/>
<circle cx="540.26" cy="562.90" r="2.55" fill="#3f6ea8"/>
<circle cx="547.54" cy="562.90" r="2.55" fill="#3f6ea8"/>
<path d="M391.9,578.0 L436.7,578.0" fill="none" stroke="#838383" stroke-width="1"/>
<circle cx="391.9" cy="578" r="2.1" fill="#555"/>
<text x="482.0" y="582.0" font-size="10.5" fill="#333" text-anchor="end" textLength="36.2" lengthAdjust="spacingAndGlyphs">Liaoning</text>
<circle cx="489.30" cy="580.00" r="2.55" fill="#3f6ea8"/>
<path d="M335.9,591.3 L440.0,591.3" fill="none" stroke="#838383" stroke-width="1"/>
<circle cx="335.9" cy="591.3" r="2.1" fill="#555"/>
<text x="482.0" y="594.2" font-size="9.5" fill="#222" font-weight="bold" text-anchor="end" textLength="27.3" lengthAdjust="spacingAndGlyphs">Beijing</text>
<circle cx="489.30" cy="591.70" r="2.55" fill="#3f6ea8"/>
<circle cx="496.58" cy="591.70" r="2.55" fill="#3f6ea8"/>
<circle cx="503.86" cy="591.70" r="2.55" fill="#3f6ea8"/>
<circle cx="511.14" cy="591.70" r="2.55" fill="#3f6ea8"/>
<path d="M343.8,603.4 L442.5,603.4" fill="none" stroke="#838383" stroke-width="1"/>
<circle cx="343.8" cy="603.4" r="2.1" fill="#555"/>
<text x="482.0" y="605.4" font-size="10.5" fill="#333" text-anchor="end" textLength="27.8" lengthAdjust="spacingAndGlyphs">Tianjin</text>
<circle cx="489.30" cy="603.70" r="2.55" fill="#3f6ea8"/>
<circle cx="496.58" cy="603.70" r="2.55" fill="#3f6ea8"/>
<circle cx="503.86" cy="603.70" r="2.55" fill="#3f6ea8"/>
<circle cx="511.14" cy="603.70" r="2.55" fill="#3f6ea8"/>
<circle cx="518.42" cy="603.70" r="2.55" fill="#3f6ea8"/>
<path d="M373.2,621.7 L428.3,621.7" fill="none" stroke="#838383" stroke-width="1"/>
<circle cx="373.2" cy="621.7" r="2.1" fill="#555"/>
<text x="482.0" y="625.0" font-size="10.5" fill="#333" text-anchor="end" textLength="43.7" lengthAdjust="spacingAndGlyphs">Shandong</text>
<circle cx="489.30" cy="623.00" r="2.55" fill="#3f6ea8"/>
<circle cx="496.58" cy="623.00" r="2.55" fill="#3f6ea8"/>
<circle cx="503.86" cy="623.00" r="2.55" fill="#3f6ea8"/>
<circle cx="511.14" cy="623.00" r="2.55" fill="#3f6ea8"/>
<circle cx="518.42" cy="623.00" r="2.55" fill="#3f6ea8"/>
<circle cx="525.70" cy="623.00" r="2.55" fill="#3f6ea8"/>
<circle cx="532.98" cy="623.00" r="2.55" fill="#3f6ea8"/>
<circle cx="540.26" cy="623.00" r="2.55" fill="#3f6ea8"/>
<circle cx="547.54" cy="623.00" r="2.55" fill="#3f6ea8"/>
<circle cx="554.82" cy="623.00" r="2.55" fill="#3f6ea8"/>
<circle cx="562.10" cy="623.00" r="2.55" fill="#3f6ea8"/>
<circle cx="569.38" cy="623.00" r="2.55" fill="#3f6ea8"/>
<circle cx="489.30" cy="629.90" r="2.55" fill="#3f6ea8"/>
<circle cx="496.58" cy="629.90" r="2.55" fill="#3f6ea8"/>
<circle cx="503.86" cy="629.90" r="2.55" fill="#3f6ea8"/>
<circle cx="511.14" cy="629.90" r="2.55" fill="#3f6ea8"/>
<circle cx="518.42" cy="629.90" r="2.55" fill="#3f6ea8"/>
<circle cx="525.70" cy="629.90" r="2.55" fill="#3f6ea8"/>
<circle cx="532.98" cy="629.90" r="2.55" fill="#3f6ea8"/>
<path d="M347.0,661.0 L347.0,645.5 L446.3,645.5" fill="none" stroke="#838383" stroke-width="1"/>
<circle cx="347" cy="661" r="2.1" fill="#555"/>
<text x="482.0" y="648.7" font-size="10.5" fill="#333" text-anchor="end" textLength="24.7" lengthAdjust="spacingAndGlyphs">Anhui</text>
<circle cx="489.30" cy="646.00" r="2.55" fill="#3f6ea8"/>
<circle cx="496.58" cy="646.00" r="2.55" fill="#3f6ea8"/>
<circle cx="503.86" cy="646.00" r="2.55" fill="#3f6ea8"/>
<circle cx="511.14" cy="646.00" r="2.55" fill="#3f6ea8"/>
<circle cx="518.42" cy="646.00" r="2.55" fill="#3f6ea8"/>
<circle cx="525.70" cy="646.00" r="2.55" fill="#3f6ea8"/>
<circle cx="532.98" cy="646.00" r="2.55" fill="#3f6ea8"/>
<circle cx="540.26" cy="646.00" r="2.55" fill="#3f6ea8"/>
<circle cx="547.54" cy="646.00" r="2.55" fill="#3f6ea8"/>
<circle cx="554.82" cy="646.00" r="2.55" fill="#3f6ea8"/>
<path d="M362.4,659.0 L446.3,658.9" fill="none" stroke="#838383" stroke-width="1"/>
<circle cx="362.4" cy="659" r="2.1" fill="#555"/>
<text x="482.0" y="663.5" font-size="10.5" fill="#333" text-anchor="end" textLength="32.5" lengthAdjust="spacingAndGlyphs">Jiangsu</text>
<circle cx="489.30" cy="661.60" r="2.55" fill="#3f6ea8"/>
<circle cx="496.58" cy="661.60" r="2.55" fill="#3f6ea8"/>
<circle cx="503.86" cy="661.60" r="2.55" fill="#3f6ea8"/>
<circle cx="511.14" cy="661.60" r="2.55" fill="#3f6ea8"/>
<circle cx="518.42" cy="661.60" r="2.55" fill="#3f6ea8"/>
<circle cx="525.70" cy="661.60" r="2.55" fill="#3f6ea8"/>
<circle cx="532.98" cy="661.60" r="2.55" fill="#3f6ea8"/>
<circle cx="540.26" cy="661.60" r="2.55" fill="#3f6ea8"/>
<circle cx="547.54" cy="661.60" r="2.55" fill="#3f6ea8"/>
<circle cx="554.82" cy="661.60" r="2.55" fill="#3f6ea8"/>
<circle cx="562.10" cy="661.60" r="2.55" fill="#3f6ea8"/>
<circle cx="569.38" cy="661.60" r="2.55" fill="#3f6ea8"/>
<circle cx="489.30" cy="668.50" r="2.55" fill="#3f6ea8"/>
<circle cx="496.58" cy="668.50" r="2.55" fill="#3f6ea8"/>
<circle cx="503.86" cy="668.50" r="2.55" fill="#3f6ea8"/>
<circle cx="511.14" cy="668.50" r="2.55" fill="#3f6ea8"/>
<circle cx="518.42" cy="668.50" r="2.55" fill="#3f6ea8"/>
<circle cx="525.70" cy="668.50" r="2.55" fill="#3f6ea8"/>
<circle cx="532.98" cy="668.50" r="2.55" fill="#3f6ea8"/>
<circle cx="540.26" cy="668.50" r="2.55" fill="#3f6ea8"/>
<circle cx="547.54" cy="668.50" r="2.55" fill="#3f6ea8"/>
<circle cx="554.82" cy="668.50" r="2.55" fill="#3f6ea8"/>
<circle cx="562.10" cy="668.50" r="2.55" fill="#3f6ea8"/>
<circle cx="569.38" cy="668.50" r="2.55" fill="#3f6ea8"/>
<circle cx="489.30" cy="675.40" r="2.55" fill="#3f6ea8"/>
<circle cx="496.58" cy="675.40" r="2.55" fill="#3f6ea8"/>
<circle cx="503.86" cy="675.40" r="2.55" fill="#3f6ea8"/>
<circle cx="511.14" cy="675.40" r="2.55" fill="#3f6ea8"/>
<circle cx="518.42" cy="675.40" r="2.55" fill="#3f6ea8"/>
<circle cx="525.70" cy="675.40" r="2.55" fill="#3f6ea8"/>
<circle cx="532.98" cy="675.40" r="2.55" fill="#3f6ea8"/>
<circle cx="540.26" cy="675.40" r="2.55" fill="#3f6ea8"/>
<circle cx="547.54" cy="675.40" r="2.55" fill="#3f6ea8"/>
<circle cx="554.82" cy="675.40" r="2.55" fill="#3f6ea8"/>
<circle cx="562.10" cy="675.40" r="2.55" fill="#3f6ea8"/>
<path d="M383.0,679.0 L399.0,679.0 L399.0,693.9 L426.3,693.9" fill="none" stroke="#838383" stroke-width="1"/>
<circle cx="383" cy="679" r="2.1" fill="#555"/>
<text x="482.0" y="697.0" font-size="10.5" fill="#333" text-anchor="end" textLength="40.0" lengthAdjust="spacingAndGlyphs">Shanghai</text>
<circle cx="489.30" cy="694.40" r="2.55" fill="#3f6ea8"/>
<circle cx="496.58" cy="694.40" r="2.55" fill="#3f6ea8"/>
<circle cx="503.86" cy="694.40" r="2.55" fill="#3f6ea8"/>
<circle cx="511.14" cy="694.40" r="2.55" fill="#3f6ea8"/>
<circle cx="518.42" cy="694.40" r="2.55" fill="#3f6ea8"/>
<path d="M376.0,709.3 L430.7,709.3" fill="none" stroke="#838383" stroke-width="1"/>
<circle cx="376" cy="709.3" r="2.1" fill="#555"/>
<text x="482.0" y="712.5" font-size="10.5" fill="#333" text-anchor="end" textLength="37.0" lengthAdjust="spacingAndGlyphs">Zhejiang</text>
<circle cx="489.30" cy="710.60" r="2.55" fill="#3f6ea8"/>
<circle cx="496.58" cy="710.60" r="2.55" fill="#3f6ea8"/>
<circle cx="503.86" cy="710.60" r="2.55" fill="#3f6ea8"/>
<circle cx="511.14" cy="710.60" r="2.55" fill="#3f6ea8"/>
<circle cx="518.42" cy="710.60" r="2.55" fill="#3f6ea8"/>
<circle cx="525.70" cy="710.60" r="2.55" fill="#3f6ea8"/>
<circle cx="532.98" cy="710.60" r="2.55" fill="#3f6ea8"/>
<circle cx="540.26" cy="710.60" r="2.55" fill="#3f6ea8"/>
<circle cx="547.54" cy="710.60" r="2.55" fill="#3f6ea8"/>
<circle cx="554.82" cy="710.60" r="2.55" fill="#3f6ea8"/>
<circle cx="562.10" cy="710.60" r="2.55" fill="#3f6ea8"/>
<circle cx="569.38" cy="710.60" r="2.55" fill="#3f6ea8"/>
<circle cx="489.30" cy="717.50" r="2.55" fill="#3f6ea8"/>
<circle cx="496.58" cy="717.50" r="2.55" fill="#3f6ea8"/>
<circle cx="503.86" cy="717.50" r="2.55" fill="#3f6ea8"/>
<circle cx="511.14" cy="717.50" r="2.55" fill="#3f6ea8"/>
<circle cx="518.42" cy="717.50" r="2.55" fill="#3f6ea8"/>
<circle cx="525.70" cy="717.50" r="2.55" fill="#3f6ea8"/>
<circle cx="532.98" cy="717.50" r="2.55" fill="#3f6ea8"/>
<circle cx="540.26" cy="717.50" r="2.55" fill="#3f6ea8"/>
<circle cx="547.54" cy="717.50" r="2.55" fill="#3f6ea8"/>
<circle cx="554.82" cy="717.50" r="2.55" fill="#3f6ea8"/>
<circle cx="562.10" cy="717.50" r="2.55" fill="#3f6ea8"/>
<circle cx="569.38" cy="717.50" r="2.55" fill="#3f6ea8"/>
<circle cx="489.30" cy="724.40" r="2.55" fill="#3f6ea8"/>
<circle cx="496.58" cy="724.40" r="2.55" fill="#3f6ea8"/>
<circle cx="503.86" cy="724.40" r="2.55" fill="#3f6ea8"/>
<circle cx="511.14" cy="724.40" r="2.55" fill="#3f6ea8"/>
<circle cx="518.42" cy="724.40" r="2.55" fill="#3f6ea8"/>
<circle cx="525.70" cy="724.40" r="2.55" fill="#3f6ea8"/>
<circle cx="532.98" cy="724.40" r="2.55" fill="#3f6ea8"/>
<circle cx="540.26" cy="724.40" r="2.55" fill="#3f6ea8"/>
<circle cx="547.54" cy="724.40" r="2.55" fill="#3f6ea8"/>
<circle cx="554.82" cy="724.40" r="2.55" fill="#3f6ea8"/>
<circle cx="562.10" cy="724.40" r="2.55" fill="#3f6ea8"/>
<circle cx="569.38" cy="724.40" r="2.55" fill="#3f6ea8"/>
<path d="M356.7,740.0 L441.7,740.0" fill="none" stroke="#838383" stroke-width="1"/>
<circle cx="356.7" cy="740" r="2.1" fill="#555"/>
<text x="482.0" y="744.3" font-size="10.5" fill="#333" text-anchor="end" textLength="25.3" lengthAdjust="spacingAndGlyphs">Fujian</text>
<circle cx="489.30" cy="742.00" r="2.55" fill="#3f6ea8"/>
<circle cx="496.58" cy="742.00" r="2.55" fill="#3f6ea8"/>
<circle cx="503.86" cy="742.00" r="2.55" fill="#3f6ea8"/>
<circle cx="511.14" cy="742.00" r="2.55" fill="#3f6ea8"/>
<circle cx="518.42" cy="742.00" r="2.55" fill="#3f6ea8"/>
<circle cx="525.70" cy="742.00" r="2.55" fill="#3f6ea8"/>
<circle cx="532.98" cy="742.00" r="2.55" fill="#3f6ea8"/>
<circle cx="540.26" cy="742.00" r="2.55" fill="#3f6ea8"/>
<circle cx="547.54" cy="742.00" r="2.55" fill="#3f6ea8"/>
<circle cx="554.82" cy="742.00" r="2.55" fill="#3f6ea8"/>
<circle cx="562.10" cy="742.00" r="2.55" fill="#3f6ea8"/>
<circle cx="569.38" cy="742.00" r="2.55" fill="#3f6ea8"/>
<circle cx="489.30" cy="748.90" r="2.55" fill="#3f6ea8"/>
<circle cx="496.58" cy="748.90" r="2.55" fill="#3f6ea8"/>
<circle cx="503.86" cy="748.90" r="2.55" fill="#3f6ea8"/>
<circle cx="511.14" cy="748.90" r="2.55" fill="#3f6ea8"/>
<circle cx="518.42" cy="748.90" r="2.55" fill="#3f6ea8"/>
<circle cx="525.70" cy="748.90" r="2.55" fill="#3f6ea8"/>
<path d="M312.7,766.7 L416.7,766.7" fill="none" stroke="#838383" stroke-width="1"/>
<circle cx="312.7" cy="766.7" r="2.1" fill="#555"/>
<text x="482.0" y="773.0" font-size="10.5" fill="#333" text-anchor="end" textLength="49.7" lengthAdjust="spacingAndGlyphs">Guangdong</text>
<circle cx="489.30" cy="770.00" r="2.55" fill="#3f6ea8"/>
<circle cx="496.58" cy="770.00" r="2.55" fill="#3f6ea8"/>
<circle cx="503.86" cy="770.00" r="2.55" fill="#3f6ea8"/>
<circle cx="511.14" cy="770.00" r="2.55" fill="#3f6ea8"/>
<circle cx="518.42" cy="770.00" r="2.55" fill="#3f6ea8"/>
<circle cx="525.70" cy="770.00" r="2.55" fill="#3f6ea8"/>
<circle cx="532.98" cy="770.00" r="2.55" fill="#3f6ea8"/>
<circle cx="540.26" cy="770.00" r="2.55" fill="#3f6ea8"/>
<circle cx="547.54" cy="770.00" r="2.55" fill="#3f6ea8"/>
<circle cx="554.82" cy="770.00" r="2.55" fill="#3f6ea8"/>
<circle cx="562.10" cy="770.00" r="2.55" fill="#3f6ea8"/>
<circle cx="569.38" cy="770.00" r="2.55" fill="#3f6ea8"/>
<circle cx="489.30" cy="776.90" r="2.55" fill="#3f6ea8"/>
<circle cx="496.58" cy="776.90" r="2.55" fill="#3f6ea8"/>
<circle cx="503.86" cy="776.90" r="2.55" fill="#3f6ea8"/>
<circle cx="511.14" cy="776.90" r="2.55" fill="#3f6ea8"/>
<circle cx="518.42" cy="776.90" r="2.55" fill="#3f6ea8"/>
<circle cx="525.70" cy="776.90" r="2.55" fill="#3f6ea8"/>
<circle cx="532.98" cy="776.90" r="2.55" fill="#3f6ea8"/>
<circle cx="540.26" cy="776.90" r="2.55" fill="#3f6ea8"/>
<circle cx="547.54" cy="776.90" r="2.55" fill="#3f6ea8"/>
<path d="M287.5,802.5 L349.5,802.5" fill="none" stroke="#838383" stroke-width="1"/>
<circle cx="287.5" cy="802.5" r="2.1" fill="#555"/>
<text x="354.3" y="806.3" font-size="11.5" fill="#333" textLength="30.2" lengthAdjust="spacingAndGlyphs">Hainan</text>
<circle cx="391.75" cy="803.75" r="2.55" fill="#3f6ea8"/>
<circle cx="399.03" cy="803.75" r="2.55" fill="#3f6ea8"/>
<circle cx="406.31" cy="803.75" r="2.55" fill="#3f6ea8"/>
<circle cx="413.59" cy="803.75" r="2.55" fill="#3f6ea8"/>
<circle cx="420.87" cy="803.75" r="2.55" fill="#3f6ea8"/>
<text x="592.0" y="809.7" font-size="8" fill="#333" text-anchor="end" textLength="43.0" lengthAdjust="spacingAndGlyphs">CHINA DAILY</text>
<text x="9.0" y="472.0" font-size="11" fill="#444" textLength="80.0" lengthAdjust="spacingAndGlyphs">The Xinjiang Uygur</text>
<text x="9.0" y="483.6" font-size="11" fill="#444" textLength="84.0" lengthAdjust="spacingAndGlyphs">autonomous region</text>
<circle cx="51.40" cy="490.00" r="2.55" fill="#3f6ea8"/>
<path d="M51.4,497.0 L51.4,560.0" fill="none" stroke="#838383" stroke-width="1"/>
<circle cx="51.4" cy="560" r="2.1" fill="#555"/>
<text x="240.0" y="471.6" font-size="11" fill="#444" text-anchor="end" textLength="40.0" lengthAdjust="spacingAndGlyphs">The Inner</text>
<text x="240.0" y="482.8" font-size="11" fill="#444" text-anchor="end" textLength="39.5" lengthAdjust="spacingAndGlyphs">Mongolia</text>
<text x="240.0" y="493.8" font-size="11" fill="#444" text-anchor="end" textLength="54.5" lengthAdjust="spacingAndGlyphs">autonomous</text>
<text x="240.0" y="504.4" font-size="11" fill="#444" text-anchor="end" textLength="26.2" lengthAdjust="spacingAndGlyphs">region</text>
<circle cx="231.75" cy="514.00" r="2.55" fill="#3f6ea8"/>
<circle cx="239.03" cy="514.00" r="2.55" fill="#3f6ea8"/>
<path d="M237.5,520.0 L237.5,583.0" fill="none" stroke="#838383" stroke-width="1"/>
<circle cx="237.5" cy="583" r="2.1" fill="#555"/>
<text x="257.0" y="471.3" font-size="11" fill="#444" textLength="67.5" lengthAdjust="spacingAndGlyphs">The Ningxia Hui</text>
<text x="257.0" y="483.6" font-size="11" fill="#444" textLength="54.5" lengthAdjust="spacingAndGlyphs">autonomous</text>
<text x="257.0" y="495.7" font-size="11" fill="#444" textLength="26.2" lengthAdjust="spacingAndGlyphs">region</text>
<circle cx="260.75" cy="503.75" r="2.55" fill="#3f6ea8"/>
<path d="M260.0,511.0 L260.0,619.7" fill="none" stroke="#838383" stroke-width="1"/>
<circle cx="260" cy="619.7" r="2.1" fill="#555"/>
<text x="288.0" y="627.3" font-size="11" fill="#333" textLength="28.7" lengthAdjust="spacingAndGlyphs" stroke="#333" stroke-width="0.2">Shanxi</text>
<circle cx="300.00" cy="608.70" r="2.55" fill="#3f6ea8"/>
<circle cx="307.30" cy="608.70" r="2.55" fill="#3f6ea8"/>
<circle cx="300.00" cy="615.70" r="2.55" fill="#3f6ea8"/>
<circle cx="307.30" cy="615.70" r="2.55" fill="#3f6ea8"/>
<text x="256.0" y="661.3" font-size="11" fill="#333" textLength="34.0" lengthAdjust="spacingAndGlyphs" stroke="#333" stroke-width="0.2">Shaanxi</text>
<circle cx="274.00" cy="650.70" r="2.55" fill="#3f6ea8"/>
<text x="301.0" y="663.4" font-size="9.2" fill="#333" textLength="23.7" lengthAdjust="spacingAndGlyphs" stroke="#333" stroke-width="0.2">Henan</text>
<circle cx="303.30" cy="654.00" r="2.55" fill="#3f6ea8"/>
<circle cx="311.00" cy="654.00" r="2.55" fill="#3f6ea8"/>
<circle cx="318.70" cy="654.00" r="2.55" fill="#3f6ea8"/>
<text x="296.0" y="678.7" font-size="10.5" fill="#333" textLength="25.2" lengthAdjust="spacingAndGlyphs" stroke="#333" stroke-width="0.2">Hubei</text>
<circle cx="293.75" cy="684.50" r="2.55" fill="#3f6ea8"/>
<circle cx="301.05" cy="684.50" r="2.55" fill="#3f6ea8"/>
<circle cx="308.35" cy="684.50" r="2.55" fill="#3f6ea8"/>
<circle cx="315.65" cy="684.50" r="2.55" fill="#3f6ea8"/>
<circle cx="322.95" cy="684.50" r="2.55" fill="#3f6ea8"/>
<circle cx="293.75" cy="691.75" r="2.55" fill="#3f6ea8"/>
<circle cx="301.05" cy="691.75" r="2.55" fill="#3f6ea8"/>
<circle cx="308.35" cy="691.75" r="2.55" fill="#3f6ea8"/>
<circle cx="315.65" cy="691.75" r="2.55" fill="#3f6ea8"/>
<circle cx="322.95" cy="691.75" r="2.55" fill="#3f6ea8"/>
<text x="209.8" y="677.8" font-size="10.5" fill="#333" textLength="34.0" lengthAdjust="spacingAndGlyphs" stroke="#333" stroke-width="0.2">Sichuan</text>
<circle cx="213.20" cy="683.40" r="2.55" fill="#3f6ea8"/>
<circle cx="220.50" cy="683.40" r="2.55" fill="#3f6ea8"/>
<circle cx="227.80" cy="683.40" r="2.55" fill="#3f6ea8"/>
<circle cx="235.10" cy="683.40" r="2.55" fill="#3f6ea8"/>
<circle cx="242.40" cy="683.40" r="2.55" fill="#3f6ea8"/>
<circle cx="213.20" cy="690.50" r="2.55" fill="#3f6ea8"/>
<circle cx="220.50" cy="690.50" r="2.55" fill="#3f6ea8"/>
<circle cx="227.80" cy="690.50" r="2.55" fill="#3f6ea8"/>
<circle cx="235.10" cy="690.50" r="2.55" fill="#3f6ea8"/>
<text x="283.8" y="720.7" font-size="10.5" fill="#333" textLength="28.2" lengthAdjust="spacingAndGlyphs" stroke="#333" stroke-width="0.2">Hunan</text>
<circle cx="295.00" cy="710.50" r="2.55" fill="#3f6ea8"/>
<circle cx="302.50" cy="710.50" r="2.55" fill="#3f6ea8"/>
<text x="317.9" y="722.4" font-size="10.5" fill="#333" textLength="29.2" lengthAdjust="spacingAndGlyphs" stroke="#333" stroke-width="0.2">Jiangxi</text>
<circle cx="329.20" cy="711.70" r="2.55" fill="#3f6ea8"/>
<circle cx="336.50" cy="711.70" r="2.55" fill="#3f6ea8"/>
<text x="243.0" y="734.3" font-size="10.5" fill="#333" textLength="35.0" lengthAdjust="spacingAndGlyphs" stroke="#333" stroke-width="0.2">Guizhou</text>
<circle cx="255.80" cy="722.70" r="2.55" fill="#3f6ea8"/>
<circle cx="263.40" cy="722.70" r="2.55" fill="#3f6ea8"/>
<text x="166.0" y="633.5" font-size="9.5" fill="#777" textLength="29.4" lengthAdjust="spacingAndGlyphs">Qinghai</text>
<text x="232.0" y="650.0" font-size="9.5" fill="#777" textLength="24.6" lengthAdjust="spacingAndGlyphs">Gansu</text>
<text x="114.4" y="675.5" font-size="9.5" fill="#777" textLength="19.6" lengthAdjust="spacingAndGlyphs">Tibet</text>
<path d="M257.5,702.0 L159.3,702.0 L159.3,721.5" fill="none" stroke="#838383" stroke-width="1"/>
<circle cx="257.5" cy="702" r="2.1" fill="#555"/>
<circle cx="145.80" cy="725.50" r="2.55" fill="#3f6ea8"/>
<circle cx="153.05" cy="725.50" r="2.55" fill="#3f6ea8"/>
<circle cx="160.30" cy="725.50" r="2.55" fill="#3f6ea8"/>
<text x="117.3" y="735.5" font-size="11.5" fill="#333" textLength="46.2" lengthAdjust="spacingAndGlyphs">Chongqing</text>
<circle cx="90.50" cy="759.50" r="2.55" fill="#3f6ea8"/>
<circle cx="97.82" cy="759.50" r="2.55" fill="#3f6ea8"/>
<circle cx="105.14" cy="759.50" r="2.55" fill="#3f6ea8"/>
<circle cx="112.46" cy="759.50" r="2.55" fill="#3f6ea8"/>
<circle cx="119.78" cy="759.50" r="2.55" fill="#3f6ea8"/>
<circle cx="127.10" cy="759.50" r="2.55" fill="#3f6ea8"/>
<circle cx="134.42" cy="759.50" r="2.55" fill="#3f6ea8"/>
<text x="139.5" y="761.6" font-size="11.5" fill="#333" textLength="31.5" lengthAdjust="spacingAndGlyphs">Yunnan</text>
<path d="M175.2,759.0 L201.3,759.0" fill="none" stroke="#838383" stroke-width="1"/>
<circle cx="201.3" cy="759" r="2.1" fill="#555"/>
<path d="M259.5,754.7 L259.5,778.7" fill="none" stroke="#838383" stroke-width="1"/>
<circle cx="259.5" cy="754.7" r="2.1" fill="#555"/>
<circle cx="244.50" cy="785.00" r="2.55" fill="#3f6ea8"/>
<circle cx="251.90" cy="785.00" r="2.55" fill="#3f6ea8"/>
<circle cx="259.30" cy="785.00" r="2.55" fill="#3f6ea8"/>
<text x="261.2" y="797.5" font-size="11" fill="#333" text-anchor="end" textLength="87.5" lengthAdjust="spacingAndGlyphs">The Guangxi Zhuang</text>
<text x="261.2" y="809.9" font-size="11" fill="#333" text-anchor="end" textLength="83.2" lengthAdjust="spacingAndGlyphs">autonomous region</text>
<text x="9.5" y="792.5" font-size="8" fill="#444" textLength="131.7" lengthAdjust="spacingAndGlyphs">Source: The National Bureau of Statistics</text>
<text x="9.5" y="801.2" font-size="8" fill="#444" textLength="127.5" lengthAdjust="spacingAndGlyphs">and the Power Generation branch of the</text>
<text x="9.5" y="809.2" font-size="8" fill="#444" textLength="121.5" lengthAdjust="spacingAndGlyphs">China Association of Circular Economy</text>
<g>
<rect x="9.5" y="697.2" width="47" height="65.4" fill="#fff"/>
<path d="M9.5,707.5 L10.6,706.5 L11.5,711.7 L14.3,715.4 L18.1,719.1 L19.9,723.8 L19.9,728.5 L18.1,732.2 L14.3,735 L10.6,737.8 L9.5,738.8 Z" fill="#ededed" stroke="#7a7a7a" stroke-width="0.7"/>
<path d="M9.5,716 L12,719 L14.5,723 L14.8,728 L13,731.5 L9.5,733.5" fill="none" stroke="#999" stroke-width="0.6"/>
<path d="M9.5,697.2 L44.2,697.2 L41.9,698.6 L38.6,700.5 L34.9,701.9 L31.1,702.8 L27.9,703.7 L25.1,704.7 L24.4,706.5 L23.2,703.6 L19.9,703.7 L16.2,704.2 L13.4,705.1 L10.6,706.5 L9.5,707.5 Z" fill="#a6a6a6" stroke="#777" stroke-width="0.5"/>
<ellipse cx="22.3" cy="711" rx="3.4" ry="2.6" fill="#a6a6a6" stroke="#777" stroke-width="0.5"/>
<path d="M51,697.2 L56.5,697.2 L56.5,738 L54.5,733 L53,727 L53.5,720 L52,713 L53,706 L51.5,701 Z" fill="#f2f2f2" stroke="#8a8a8a" stroke-width="0.6"/>
<path d="M26.5,762.6 L27.5,758.4 L31.1,754.6 L36.7,752.8 L42.3,750.9 L46.1,749 L48.9,746.2 L51,749 L54,747 L56.5,746 L56.5,762.6 Z" fill="#ebebeb" stroke="#777" stroke-width="0.7"/>
<path d="M31,755 L40,747 L47,740 L52,734 L54.5,729.5" fill="none" stroke="#666" stroke-width="1.1"/>
<line x1="20.4" y1="720.5" x2="22.2" y2="722.4" stroke="#777" stroke-width="0.9"/>
<line x1="22.6" y1="730.3" x2="23.5" y2="733.2" stroke="#777" stroke-width="0.9"/>
<line x1="16.2" y1="745.3" x2="17.1" y2="749" stroke="#777" stroke-width="0.9"/>
<line x1="50.7" y1="711" x2="51.6" y2="713.8" stroke="#777" stroke-width="0.9"/>
<line x1="49.8" y1="719.4" x2="50.7" y2="722.3" stroke="#777" stroke-width="0.9"/>
<line x1="53.5" y1="729" x2="54.5" y2="731" stroke="#777" stroke-width="0.9"/>
<line x1="17.5" y1="753.5" x2="18.5" y2="756" stroke="#777" stroke-width="0.9"/>
<line x1="43" y1="744" x2="45" y2="742" stroke="#777" stroke-width="0.9"/>
<line x1="28" y1="718" x2="30" y2="717" stroke="#777" stroke-width="0.9"/>
<line x1="34" y1="719" x2="36" y2="718.5" stroke="#777" stroke-width="0.9"/>
<line x1="22" y1="756" x2="23.5" y2="758" stroke="#777" stroke-width="0.9"/>
<rect x="9.5" y="697.2" width="47" height="65.4" fill="none" stroke="#8a8a8a" stroke-width="1"/>
</g>
</svg>
</body></html>
